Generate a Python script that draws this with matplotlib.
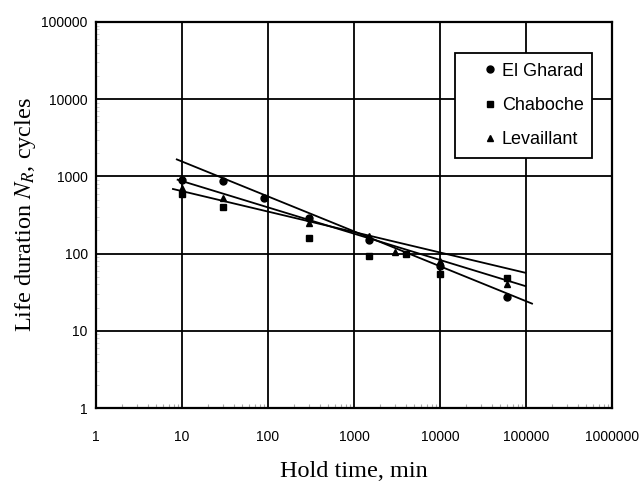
import matplotlib
matplotlib.use("Agg")
import matplotlib.pyplot as plt
import numpy as np
from matplotlib.patches import Rectangle
from matplotlib.ticker import FixedLocator, LogLocator, NullFormatter

plt.rcParams["mathtext.fontset"] = "stix"

gharad_x = [10, 30, 90, 300, 1500, 10000, 60000]
gharad_y = [900, 870, 520, 290, 150, 70, 27]

chaboche_x = [10, 30, 300, 1500, 4000, 10000, 60000]
chaboche_y = [600, 400, 160, 92, 98, 55, 48]

levaillant_x = [10, 30, 300, 1500, 3000, 10000, 60000]
levaillant_y = [700, 520, 250, 170, 105, 80, 40]

# fitted trend lines, start/end points
fit_gharad_x = [8.7, 117500]
fit_gharad_y = [1660, 22.5]
fit_levaillant_x = [8.9, 98000]
fit_levaillant_y = [905, 38]
fit_chaboche_x = [7.85, 98000]
fit_chaboche_y = [687, 56.5]

xticks = [1, 10, 100, 1000, 10000, 100000, 1000000]
yticks = [1, 10, 100, 1000, 10000, 100000]

fig = plt.figure(figsize=(6.39, 4.86), dpi=100)
ax = fig.add_axes([96/639, 1 - 408/486, 516/639, 386/486])

for fx, fy in [(fit_gharad_x, fit_gharad_y),
               (fit_levaillant_x, fit_levaillant_y),
               (fit_chaboche_x, fit_chaboche_y)]:
    ax.plot(fx, fy, color="black", lw=1.3, zorder=3)

ax.plot(gharad_x, gharad_y, "o", color="black", ms=5, label="El Gharad", zorder=4)
ax.plot(chaboche_x, chaboche_y, "s", color="black", ms=4.5, label="Chaboche", zorder=4)
ax.plot(levaillant_x, levaillant_y, "^", color="black", ms=5, label="Levaillant", zorder=4)

ax.set_xscale("log")
ax.set_yscale("log")
ax.set_xlim(1, 1000000)
ax.set_ylim(1, 100000)

ax.xaxis.set_major_locator(FixedLocator(xticks))
ax.yaxis.set_major_locator(FixedLocator(yticks))
ax.set_xticklabels([str(v) for v in xticks])
ax.set_yticklabels([str(v) for v in yticks])
ax.xaxis.set_minor_locator(LogLocator(base=10, subs=np.arange(2, 10), numticks=20))
ax.xaxis.set_minor_formatter(NullFormatter())
ax.yaxis.set_minor_locator(LogLocator(base=10, subs=np.arange(2, 10), numticks=20))
ax.yaxis.set_minor_formatter(NullFormatter())

ax.grid(True, which="major", color="black", lw=1.3)
ax.tick_params(which="major", length=0, labelsize=10)
ax.tick_params(axis="x", which="major", pad=16)
ax.tick_params(axis="y", which="major", pad=6)
ax.tick_params(axis="x", which="minor", direction="in", length=3, color="#aaaaaa", width=0.8)
ax.tick_params(axis="y", which="minor", direction="in", length=2, color="#cccccc", width=0.6)
for lab in ax.get_xticklabels() + ax.get_yticklabels():
    lab.set_family("Liberation Sans")

for sp in ax.spines.values():
    sp.set_linewidth(1.6)
    sp.set_color("black")

ax.set_xlabel("Hold time, min", family="Liberation Serif", fontsize=17.5, labelpad=12)
ax.set_ylabel("Life duration $N_R$, cycles", family="Liberation Serif", fontsize=17.5)
ax.yaxis.set_label_coords(-0.112, 0.5)

# legend box drawn separately so its size matches the scan
box = Rectangle((0.6957, 0.6477), 0.2655, 0.272, transform=ax.transAxes,
                facecolor="white", edgecolor="black", lw=1.3, zorder=5, clip_on=False)
ax.add_patch(box)
leg = ax.legend(loc="upper left", bbox_to_anchor=(0.7496, 0.895), frameon=False,
                prop={"family": "Liberation Sans", "size": 13}, handlelength=0.8,
                handletextpad=0.25, labelspacing=0.96, borderpad=0, borderaxespad=0)
leg.set_zorder(6)

fig.savefig("out.png", dpi=100)
